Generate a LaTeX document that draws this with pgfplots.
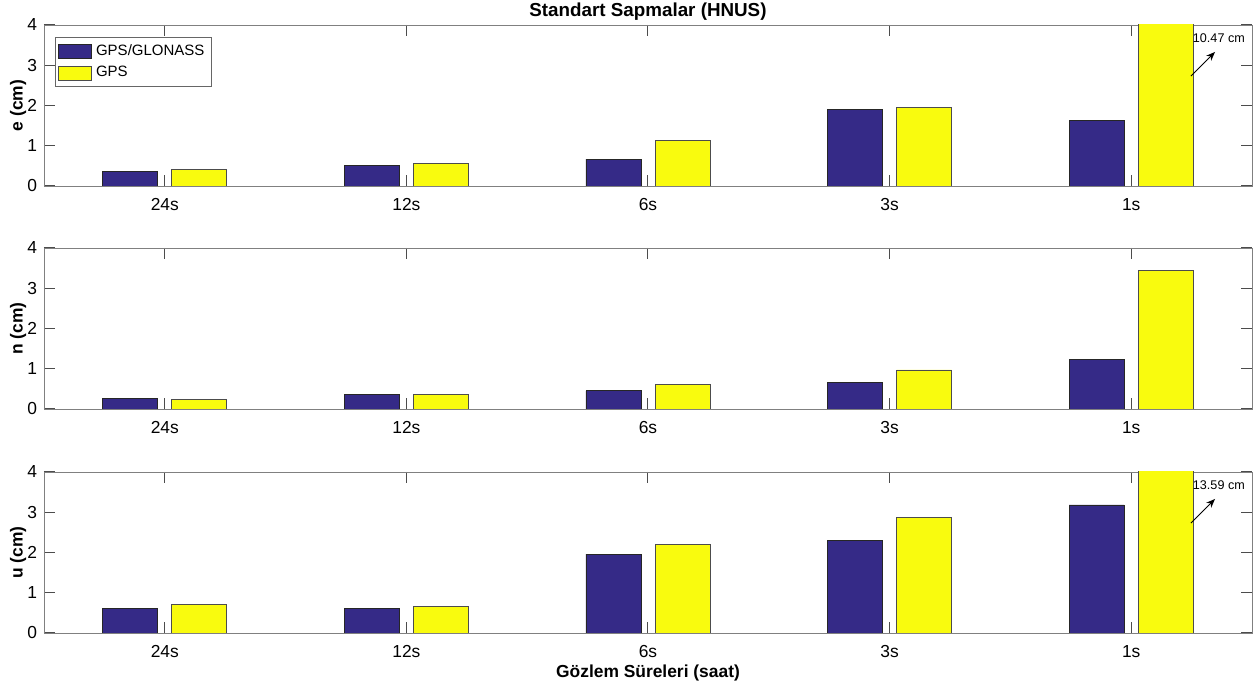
\documentclass[border=0pt]{standalone}
\usepackage{pgfplots}
\pgfplotsset{compat=1.18}
\usetikzlibrary{arrows.meta}
\usepackage{fontspec}
\setmainfont{Liberation Sans}
\definecolor{pblue}{rgb}{0.2081,0.1663,0.5292}
\definecolor{pyellow}{rgb}{0.9763,0.9831,0.0538}
\tikzset{annarrow/.style={-{Stealth[length=4.5pt,width=3.5pt]}, line width=0.4pt}}
\pgfplotsset{
 myax/.style={
  ybar, bar width=0.228,
  scale only axis, width=604pt, height=80.5pt,
  xmin=0.5, xmax=5.5, ymin=0, ymax=4,
  xtick={1,2,3,4,5}, xticklabels={24s,12s,6s,3s,1s},
  ytick={0,1,2,3,4},
  tick align=inside, xtick align=inside, ytick align=inside,
  major tick length=5.5pt,
  axis line style={black!50},
  every tick/.style={black!70, line width=0.5pt},
  tick label style={font=\fontsize{8.7}{10}\selectfont},
  xticklabel style={yshift=-2.5pt},
  /pgf/number format/assume math mode=true,
  label style={font=\bfseries\fontsize{8.7}{10}\selectfont},
  ylabel style={at={(axis description cs:-0.0215,0.5)}, anchor=center},
 },
 gg/.style={fill=pblue, draw=black!85, line width=0.4pt, bar shift=-0.143},
 gp/.style={fill=pyellow, draw=black!70, line width=0.4pt, bar shift=0.143},
}
\begin{document}
\begin{tikzpicture}
\useasboundingbox (-22pt,-27.5pt) rectangle (605.5pt,316.5pt);
% top axis: e
\begin{axis}[myax, name=top, at={(0pt,223.5pt)}, ylabel={e (cm)},
  legend style={at={(0.009,0.925)}, anchor=north west, font=\fontsize{7.5}{9}\selectfont,
    draw=black!60, inner sep=1.5pt, row sep=0pt, cells={anchor=west}},
  legend image code/.code={\draw[#1, bar shift=0pt] (1.5pt,-3.5pt) rectangle (18pt,3.5pt);},
]
\addplot[gg] coordinates {(1,0.37) (2,0.52) (3,0.67) (4,1.91) (5,1.62)};
\addplot[gp] coordinates {(1,0.40) (2,0.55) (3,1.14) (4,1.96) (5,10.47)};
\legend{GPS/GLONASS,GPS}
\node[anchor=center, font=\fontsize{6.3}{7}\selectfont, inner sep=0pt] at (axis cs:5.363,3.68) {10.47 cm};
\draw[annarrow] (axis cs:5.247,2.73) -- (axis cs:5.347,3.33);
\end{axis}
\node[anchor=center, inner sep=0pt, font=\bfseries\fontsize{9.4}{11}\selectfont] at ([yshift=6.5pt]top.north) {Standart Sapmalar (HNUS)};
% middle axis: n
\begin{axis}[myax, at={(0pt,112pt)}, ylabel={n (cm)}]
\addplot[gg] coordinates {(1,0.27) (2,0.37) (3,0.45) (4,0.67) (5,1.22)};
\addplot[gp] coordinates {(1,0.23) (2,0.35) (3,0.60) (4,0.97) (5,3.45)};
\end{axis}
% bottom axis: u
\begin{axis}[myax, at={(0pt,0pt)}, ylabel={u (cm)}, xlabel={Gözlem Süreleri (saat)},
  xlabel style={at={(axis description cs:0.5,-0.25)}, anchor=center}]
\addplot[gg] coordinates {(1,0.60) (2,0.62) (3,1.96) (4,2.29) (5,3.18)};
\addplot[gp] coordinates {(1,0.72) (2,0.67) (3,2.21) (4,2.88) (5,13.59)};
\node[anchor=center, font=\fontsize{6.3}{7}\selectfont, inner sep=0pt] at (axis cs:5.363,3.68) {13.59 cm};
\draw[annarrow] (axis cs:5.247,2.73) -- (axis cs:5.347,3.33);
\end{axis}
\end{tikzpicture}
\end{document}
